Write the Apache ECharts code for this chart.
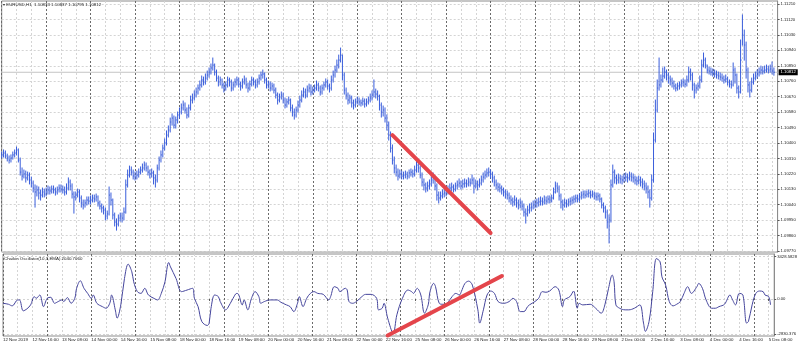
<!DOCTYPE html>
<html><head><meta charset="utf-8">
<script src="https://cdn.jsdelivr.net/npm/echarts@6/dist/echarts.min.js"></script>
<style>html,body{margin:0;padding:0;background:#fff}#c{width:800px;height:348px}</style>
</head><body><div id="c"></div>
<script>
const chartTitle = '\u25BE EURUSD,H1  1.10833 1.10837 1.10795 1.10812';
const oscTitle = 'Chaikin Oscillator(10,3,EMA) 2040.7060';
const xTickLabels = ['12 Nov 2019','12 Nov 16:00','13 Nov 08:00','14 Nov 00:00','14 Nov 16:00','15 Nov 08:00','18 Nov 00:00','18 Nov 16:00','19 Nov 08:00','20 Nov 00:00','20 Nov 16:00','21 Nov 08:00','22 Nov 00:00','22 Nov 16:00','25 Nov 08:00','26 Nov 00:00','26 Nov 16:00','27 Nov 08:00','28 Nov 00:00','28 Nov 16:00','29 Nov 08:00','2 Dec 00:00','2 Dec 16:00','3 Dec 08:00','4 Dec 00:00','4 Dec 16:00','5 Dec 08:00'];
const xTickEvery = 16;
const priceTicks = [1.0977,1.0986,1.0995,1.1004,1.1013,1.1022,1.1031,1.1040,1.1049,1.1058,1.1067,1.1076,1.1085,1.1094,1.1103,1.1112,1.1121];
const oscTicks = [-2830.376, 0, 3428.5828];
const oscTickText = ['-2830.376', '0.00', '3428.5828'];

const closes = [
1.10330,1.10341,1.10324,1.10312,1.10300,1.10312,1.10330,1.10341,1.10359,1.10300,
1.10230,1.10207,1.10219,1.10196,1.10213,1.10184,1.10166,1.10137,1.10114,1.10126,
1.10108,1.10096,1.10114,1.10102,1.10114,1.10126,1.10120,1.10131,1.10126,1.10114,
1.10126,1.10137,1.10131,1.10126,1.10114,1.10137,1.10172,1.10149,1.10102,1.10085,
1.10096,1.10114,1.10079,1.10050,1.10038,1.10050,1.10067,1.10061,1.10067,1.10079,
1.10073,1.10085,1.10050,1.10032,1.10021,1.10009,1.09974,1.09986,1.10096,1.10067,
1.09980,1.09939,1.09927,1.09962,1.09974,1.09962,1.09997,1.10155,1.10213,1.10242,
1.10230,1.10207,1.10201,1.10213,1.10230,1.10242,1.10254,1.10271,1.10254,1.10230,
1.10219,1.10225,1.10196,1.10184,1.10254,1.10300,1.10330,1.10370,1.10400,1.10446,
1.10475,1.10522,1.10545,1.10504,1.10534,1.10563,1.10580,1.10604,1.10621,1.10592,
1.10563,1.10604,1.10650,1.10662,1.10679,1.10697,1.10720,1.10738,1.10767,1.10755,
1.10778,1.10796,1.10813,1.10837,1.10854,1.10813,1.10778,1.10755,1.10767,1.10738,
1.10720,1.10738,1.10767,1.10755,1.10720,1.10738,1.10755,1.10767,1.10743,1.10732,
1.10755,1.10767,1.10738,1.10720,1.10743,1.10767,1.10755,1.10738,1.10755,1.10778,
1.10796,1.10802,1.10767,1.10738,1.10743,1.10720,1.10732,1.10708,1.10679,1.10650,
1.10668,1.10679,1.10650,1.10621,1.10639,1.10650,1.10604,1.10580,1.10563,1.10592,
1.10621,1.10650,1.10679,1.10697,1.10679,1.10708,1.10720,1.10697,1.10708,1.10720,
1.10738,1.10720,1.10697,1.10720,1.10738,1.10755,1.10732,1.10720,1.10767,1.10796,
1.10825,1.10854,1.10883,1.10912,1.10796,1.10708,1.10679,1.10650,1.10662,1.10633,
1.10621,1.10639,1.10650,1.10639,1.10633,1.10644,1.10627,1.10639,1.10650,1.10662,
1.10679,1.10697,1.10685,1.10673,1.10621,1.10580,1.10592,1.10545,1.10504,1.10446,
1.10370,1.10300,1.10254,1.10230,1.10207,1.10219,1.10207,1.10213,1.10219,1.10207,
1.10225,1.10230,1.10219,1.10242,1.10271,1.10254,1.10213,1.10172,1.10155,1.10137,
1.10149,1.10161,1.10184,1.10196,1.10149,1.10096,1.10079,1.10091,1.10102,1.10108,
1.10114,1.10126,1.10137,1.10143,1.10131,1.10149,1.10155,1.10166,1.10149,1.10161,
1.10166,1.10161,1.10172,1.10166,1.10184,1.10149,1.10161,1.10155,1.10166,1.10184,
1.10201,1.10213,1.10225,1.10230,1.10219,1.10196,1.10172,1.10155,1.10143,1.10137,
1.10126,1.10114,1.10102,1.10096,1.10079,1.10067,1.10056,1.10067,1.10050,1.10038,
1.10050,1.10032,1.09997,1.09986,1.10009,1.10021,1.10026,1.10038,1.10044,1.10050,
1.10056,1.10061,1.10056,1.10067,1.10061,1.10073,1.10067,1.10079,1.10114,1.10149,
1.10137,1.10091,1.10056,1.10038,1.10050,1.10044,1.10056,1.10061,1.10067,1.10073,
1.10079,1.10073,1.10085,1.10096,1.10102,1.10096,1.10102,1.10108,1.10096,1.10102,
1.10091,1.10085,1.10091,1.10073,1.10038,1.10021,1.09997,1.09939,1.09951,1.10155,
1.10230,1.10196,1.10184,1.10196,1.10190,1.10184,1.10196,1.10201,1.10196,1.10207,
1.10201,1.10196,1.10184,1.10178,1.10184,1.10172,1.10161,1.10149,1.10137,1.10114,
1.10079,1.10184,1.10417,1.10592,1.10720,1.10738,1.10767,1.10790,1.10813,1.10796,
1.10778,1.10767,1.10749,1.10732,1.10720,1.10732,1.10738,1.10749,1.10755,1.10743,
1.10767,1.10813,1.10796,1.10738,1.10708,1.10720,1.10732,1.10767,1.10854,1.10883,
1.10854,1.10825,1.10819,1.10813,1.10808,1.10802,1.10796,1.10790,1.10784,1.10778,
1.10767,1.10773,1.10755,1.10743,1.10738,1.10825,1.10796,1.10720,1.10697,1.10883,
1.11029,1.10971,1.10825,1.10738,1.10708,1.10755,1.10778,1.10790,1.10802,1.10813,
1.10825,1.10819,1.10825,1.10831,1.10825,1.10831,1.10819,1.10812];

const highs = [
1.10347,1.10359,1.10353,1.10335,1.10324,1.10330,1.10347,1.10359,1.10376,1.10365,
1.10312,1.10254,1.10242,1.10236,1.10230,1.10225,1.10201,1.10178,1.10155,1.10149,
1.10143,1.10126,1.10137,1.10131,1.10137,1.10149,1.10143,1.10149,1.10149,1.10137,
1.10143,1.10155,1.10155,1.10149,1.10143,1.10161,1.10196,1.10184,1.10161,1.10114,
1.10114,1.10131,1.10126,1.10091,1.10067,1.10067,1.10085,1.10085,1.10091,1.10096,
1.10096,1.10102,1.10091,1.10061,1.10044,1.10032,1.10021,1.10003,1.10143,1.10108,
1.10073,1.09991,1.09957,1.09980,1.09991,1.09991,1.10021,1.10184,1.10242,1.10265,
1.10260,1.10242,1.10230,1.10236,1.10248,1.10260,1.10277,1.10289,1.10283,1.10265,
1.10242,1.10248,1.10236,1.10213,1.10271,1.10318,1.10353,1.10388,1.10423,1.10470,
1.10499,1.10545,1.10569,1.10557,1.10551,1.10580,1.10604,1.10627,1.10644,1.10633,
1.10604,1.10621,1.10673,1.10685,1.10703,1.10720,1.10738,1.10761,1.10790,1.10784,
1.10802,1.10819,1.10837,1.10860,1.10895,1.10860,1.10825,1.10790,1.10784,1.10773,
1.10749,1.10755,1.10784,1.10778,1.10767,1.10755,1.10773,1.10784,1.10778,1.10755,
1.10773,1.10790,1.10778,1.10749,1.10761,1.10784,1.10778,1.10767,1.10773,1.10796,
1.10813,1.10825,1.10808,1.10778,1.10761,1.10755,1.10749,1.10743,1.10720,1.10691,
1.10685,1.10697,1.10691,1.10662,1.10656,1.10668,1.10656,1.10621,1.10598,1.10609,
1.10644,1.10673,1.10703,1.10720,1.10714,1.10732,1.10743,1.10738,1.10726,1.10738,
1.10761,1.10749,1.10732,1.10738,1.10755,1.10773,1.10767,1.10743,1.10790,1.10819,
1.10848,1.10883,1.10912,1.10953,1.10912,1.10808,1.10720,1.10691,1.10679,1.10673,
1.10650,1.10656,1.10668,1.10662,1.10650,1.10662,1.10656,1.10656,1.10668,1.10685,
1.10703,1.10767,1.10714,1.10703,1.10679,1.10633,1.10615,1.10604,1.10563,1.10522,
1.10464,1.10388,1.10318,1.10271,1.10248,1.10242,1.10236,1.10230,1.10236,1.10230,
1.10242,1.10248,1.10242,1.10265,1.10300,1.10283,1.10265,1.10225,1.10190,1.10166,
1.10172,1.10184,1.10213,1.10225,1.10207,1.10161,1.10114,1.10114,1.10126,1.10131,
1.10137,1.10149,1.10161,1.10166,1.10155,1.10166,1.10178,1.10190,1.10178,1.10184,
1.10190,1.10184,1.10196,1.10190,1.10213,1.10196,1.10184,1.10178,1.10190,1.10207,
1.10225,1.10236,1.10248,1.10254,1.10242,1.10230,1.10207,1.10184,1.10166,1.10161,
1.10149,1.10137,1.10126,1.10120,1.10108,1.10091,1.10079,1.10091,1.10079,1.10067,
1.10073,1.10061,1.10044,1.10015,1.10032,1.10044,1.10050,1.10061,1.10067,1.10073,
1.10079,1.10085,1.10079,1.10091,1.10085,1.10091,1.10091,1.10096,1.10137,1.10172,
1.10166,1.10149,1.10102,1.10067,1.10073,1.10067,1.10073,1.10079,1.10085,1.10091,
1.10096,1.10096,1.10102,1.10114,1.10120,1.10120,1.10120,1.10126,1.10120,1.10120,
1.10114,1.10108,1.10108,1.10102,1.10079,1.10050,1.10032,1.10009,1.09980,1.10184,
1.10271,1.10242,1.10213,1.10219,1.10213,1.10207,1.10219,1.10225,1.10219,1.10230,
1.10225,1.10219,1.10207,1.10201,1.10207,1.10201,1.10190,1.10178,1.10166,1.10149,
1.10126,1.10213,1.10458,1.10650,1.10767,1.10895,1.10796,1.10837,1.10843,1.10825,
1.10808,1.10790,1.10778,1.10761,1.10743,1.10749,1.10755,1.10767,1.10773,1.10767,
1.10790,1.10843,1.10831,1.10808,1.10749,1.10738,1.10749,1.10790,1.10883,1.10924,
1.10895,1.10854,1.10843,1.10837,1.10831,1.10825,1.10819,1.10813,1.10808,1.10802,
1.10790,1.10796,1.10784,1.10767,1.10761,1.10866,1.10837,1.10802,1.10732,1.11000,
1.11146,1.11058,1.10988,1.10837,1.10755,1.10778,1.10802,1.10813,1.10825,1.10837,
1.10848,1.10843,1.10848,1.10854,1.10848,1.10854,1.10872,1.10837];

const lows = [
1.10312,1.10318,1.10312,1.10295,1.10283,1.10289,1.10306,1.10318,1.10330,1.10289,
1.10213,1.10184,1.10196,1.10172,1.10184,1.10161,1.10143,1.10114,1.10026,1.10091,
1.10073,1.10067,1.10085,1.10085,1.10091,1.10102,1.10102,1.10108,1.10108,1.10096,
1.10102,1.10114,1.10114,1.10108,1.10096,1.10102,1.10126,1.10126,1.10079,1.09991,
1.10067,1.10085,1.10056,1.10026,1.10015,1.10026,1.10038,1.10044,1.10044,1.10056,
1.10056,1.10061,1.10032,1.10015,1.09997,1.09986,1.09951,1.09957,1.09980,1.10038,
1.09957,1.09916,1.09892,1.09916,1.09945,1.09939,1.09951,1.09991,1.10143,1.10201,
1.10213,1.10190,1.10184,1.10190,1.10201,1.10219,1.10230,1.10242,1.10236,1.10213,
1.10196,1.10201,1.10161,1.10143,1.10172,1.10242,1.10289,1.10318,1.10359,1.10388,
1.10435,1.10464,1.10504,1.10487,1.10487,1.10516,1.10545,1.10569,1.10592,1.10574,
1.10545,1.10551,1.10592,1.10633,1.10650,1.10668,1.10685,1.10708,1.10726,1.10738,
1.10743,1.10767,1.10784,1.10802,1.10825,1.10796,1.10761,1.10732,1.10738,1.10720,
1.10697,1.10708,1.10726,1.10732,1.10703,1.10708,1.10726,1.10738,1.10726,1.10708,
1.10720,1.10743,1.10720,1.10697,1.10708,1.10732,1.10738,1.10720,1.10726,1.10743,
1.10767,1.10778,1.10749,1.10720,1.10720,1.10703,1.10708,1.10691,1.10662,1.10627,
1.10639,1.10656,1.10633,1.10604,1.10609,1.10627,1.10586,1.10557,1.10539,1.10551,
1.10580,1.10609,1.10639,1.10668,1.10662,1.10668,1.10697,1.10679,1.10685,1.10697,
1.10708,1.10703,1.10679,1.10685,1.10708,1.10726,1.10714,1.10697,1.10708,1.10755,
1.10784,1.10813,1.10837,1.10872,1.10767,1.10685,1.10656,1.10627,1.10633,1.10609,
1.10598,1.10609,1.10627,1.10621,1.10615,1.10621,1.10609,1.10615,1.10627,1.10639,
1.10650,1.10668,1.10662,1.10650,1.10592,1.10551,1.10557,1.10522,1.10475,1.10417,
1.10347,1.10277,1.10225,1.10207,1.10184,1.10196,1.10190,1.10190,1.10196,1.10190,
1.10196,1.10207,1.10201,1.10207,1.10230,1.10230,1.10196,1.10149,1.10126,1.10114,
1.10120,1.10131,1.10149,1.10166,1.10126,1.10067,1.10050,1.10067,1.10079,1.10085,
1.10091,1.10102,1.10114,1.10120,1.10114,1.10120,1.10131,1.10143,1.10131,1.10137,
1.10143,1.10143,1.10149,1.10149,1.10161,1.10108,1.10137,1.10126,1.10143,1.10155,
1.10172,1.10190,1.10201,1.10207,1.10196,1.10172,1.10149,1.10131,1.10120,1.10114,
1.10102,1.10091,1.10079,1.10073,1.10056,1.10044,1.10032,1.10038,1.10026,1.10015,
1.10021,1.10009,1.09974,1.09933,1.09974,1.09991,1.10003,1.10015,1.10021,1.10026,
1.10032,1.10038,1.10038,1.10044,1.10044,1.10050,1.10050,1.10056,1.10073,1.10108,
1.10114,1.10067,1.10021,1.10009,1.10026,1.10026,1.10032,1.10038,1.10044,1.10050,
1.10056,1.10056,1.10061,1.10073,1.10079,1.10079,1.10085,1.10085,1.10079,1.10085,
1.10073,1.10067,1.10067,1.10056,1.10021,1.09997,1.09962,1.09904,1.09817,1.09939,
1.10143,1.10166,1.10161,1.10166,1.10166,1.10161,1.10172,1.10178,1.10172,1.10184,
1.10178,1.10172,1.10161,1.10155,1.10161,1.10149,1.10137,1.10126,1.10108,1.10079,
1.10026,1.10067,1.10172,1.10405,1.10580,1.10708,1.10726,1.10755,1.10778,1.10767,
1.10749,1.10738,1.10726,1.10714,1.10703,1.10708,1.10714,1.10726,1.10732,1.10726,
1.10732,1.10755,1.10767,1.10708,1.10662,1.10691,1.10708,1.10720,1.10755,1.10843,
1.10837,1.10808,1.10802,1.10796,1.10790,1.10784,1.10778,1.10773,1.10767,1.10761,
1.10749,1.10755,1.10738,1.10726,1.10720,1.10732,1.10749,1.10691,1.10662,1.10691,
1.10971,1.10883,1.10778,1.10697,1.10668,1.10697,1.10743,1.10767,1.10778,1.10790,
1.10802,1.10802,1.10808,1.10813,1.10808,1.10813,1.10802,1.10795];

const oscBars = [0,3,5,8,9,11,13,15,17,18,20,22,24,26,28,30,32,33,35,37,39,40,42,44,46,48,49,51,54,56,58,59,61,62,64,66,68,70,71,73,75,77,79,82,84,86,88,90,91,94,97,100,103,104,106,108,111,112,113,115,117,118,121,122,125,127,128,130,131,133,135,137,139,140,142,145,149,151,154,156,158,160,161,163,165,167,169,171,174,177,178,180,182,183,186,187,188,190,192,195,197,200,203,204,206,207,209,212,214,217,220,222,223,225,227,229,231,232,234,235,237,239,240,242,244,246,248,249,251,253,255,258,259,261,263,265,267,269,272,275,277,279,281,283,285,286,289,291,293,295,297,300,302,304,305,308,310,312,313,315,319,322,325,327,329,331,332,333,335,338,340,343,346,348,349,351,353,355,357,358,360,362,364,366,368,370,372,374,377,378,380,382,385,387,389,392,395,396,398,400,402,404,405,407,409,411,413,414,416,417];
const oscValues = [-350,-430,-560,-80,-80,-960,-800,-480,190,50,320,-620,50,130,-350,-210,-80,-210,110,-350,50,860,1470,860,450,50,320,-350,-620,-750,-350,320,-880,-1550,-480,1660,2810,2190,1390,590,450,860,320,50,-80,450,1390,2940,2590,1660,590,720,860,50,-620,-1820,-2140,-1950,-750,320,190,-210,-880,-750,50,450,370,-480,-80,-880,50,590,190,-350,-210,-80,-80,-270,-480,-620,-1020,-350,190,-620,50,450,590,450,370,-80,190,990,860,590,860,720,-210,-350,-210,190,370,370,50,-880,-750,-350,-1550,-2760,-1280,50,720,590,450,860,320,-1150,-480,590,1260,990,-350,-430,-430,-210,190,450,320,590,1260,1440,1120,-880,-1950,-880,320,640,450,-210,-350,-210,50,-210,-1020,-1020,-620,-480,-210,50,590,540,640,990,720,-620,-80,190,640,-750,-350,-480,-430,-750,-1150,-480,860,1930,1390,-480,-750,-880,-880,-750,-480,-1950,-2620,-1820,590,3260,3000,1790,1120,-210,-560,-430,-210,450,990,450,990,1260,860,-80,-750,-750,-620,-430,320,50,-480,450,320,-1950,-1820,-480,450,640,590,320,190,-480];

const trendPrice = [[211, 1.10446], [264, 1.09875]];
const trendOsc = [[209, -2950], [271, 1850]];

// hourly trading bars (Mon-Fri), plus two empty future slots
const barTimes = [];
{ let t = Date.UTC(2019, 10, 12, 0);
  while (barTimes.length < closes.length + 2) {
    const d = new Date(t), wd = d.getUTCDay();
    if (wd !== 0 && wd !== 6) barTimes.push(d.toISOString().slice(0, 16).replace('T', ' '));
    t += 3600e3;
  } }

const FONT = 'Liberation Sans';
const BAR = '#3a5edb';
const barData = closes.map((c, i) => [i, highs[i], lows[i], c]);
const oscData = oscBars.map((b, k) => [b, oscValues[k]]);
const lastClose = closes[closes.length - 1];
const bidLine = [[0, lastClose], [barTimes.length - 1, lastClose]];

function catAxis(gridIndex, opts) {
  return Object.assign({
    type: 'category', gridIndex, data: barTimes, boundaryGap: false,
    axisLine: {show: false}, axisTick: {show: false}, axisLabel: {show: false}
  }, opts);
}
const lightV = {show: true, interval: 7, lineStyle: {color: '#d4d4d4', type: [2, 2], width: 1}};
const darkV = {show: true, interval: 23, lineStyle: {color: '#6a6a6a', type: [2, 2], width: 1}};

const chart = echarts.init(document.getElementById('c'), null, {renderer: 'canvas'});
chart.setOption({
  animation: false,
  textStyle: {fontFamily: FONT},
  title: [
    {text: chartTitle, left: 3, top: 3, padding: 0, textStyle: {fontSize: 4.4, fontWeight: 'normal', color: '#222', fontFamily: FONT}},
    {text: oscTitle, left: 4, top: 257, padding: 0, textStyle: {fontSize: 4.4, fontWeight: 'normal', color: '#222', fontFamily: FONT}}
  ],
  grid: [
    {left: 1.7, right: 22.4, top: 1, height: 251, show: true, borderColor: '#8c8c8c', borderWidth: 1},
    {left: 1.7, right: 22.4, top: 254, height: 82, show: true, borderColor: '#8c8c8c', borderWidth: 1}
  ],
  xAxis: [
    catAxis(0, {splitLine: lightV}),
    catAxis(0, {splitLine: darkV}),
    catAxis(1, {splitLine: lightV, position: 'bottom',
      axisTick: {show: true, interval: xTickEvery - 1, length: 2, lineStyle: {color: '#555'}},
      axisLabel: {show: true, interval: xTickEvery - 1, align: 'left', margin: 2, fontSize: 4.4, color: '#222', fontFamily: FONT,
        formatter: (v, idx) => xTickLabels[idx / xTickEvery] || ''}}),
    catAxis(1, {splitLine: darkV})
  ],
  yAxis: [
    {type: 'value', gridIndex: 0, position: 'right', min: 1.097642, max: 1.112275,
      axisLine: {show: true, lineStyle: {color: '#8c8c8c'}},
      axisTick: {show: true, length: 2, customValues: priceTicks, lineStyle: {color: '#555'}},
      axisLabel: {show: true, customValues: priceTicks, margin: 3, fontSize: 4.2, color: '#222', fontFamily: FONT,
        formatter: v => v.toFixed(5)},
      splitLine: {show: true, lineStyle: {color: '#d4d4d4', type: [2, 2]}}},
    {type: 'value', gridIndex: 1, position: 'right', min: -2992, max: 3630,
      axisLine: {show: true, lineStyle: {color: '#8c8c8c'}},
      axisTick: {show: true, length: 2, customValues: oscTicks, lineStyle: {color: '#555'}},
      axisLabel: {show: true, customValues: oscTicks, margin: 3, fontSize: 4.2, color: '#222', fontFamily: FONT,
        formatter: v => { let k = 0, best = Infinity; oscTicks.forEach((t, j) => { if (Math.abs(t - v) < best) { best = Math.abs(t - v); k = j; } }); return oscTickText[k]; }},
      splitLine: {show: true, lineStyle: {color: '#d4d4d4', type: [2, 2]}}}
  ],
  series: [
    {
      type: 'line', xAxisIndex: 0, yAxisIndex: 0, data: bidLine, symbol: 'none', z: 2, silent: true,
      lineStyle: {color: '#c4c4c4', width: 1},
      endLabel: {show: true, distance: 1, formatter: () => lastClose.toFixed(5),
        backgroundColor: '#000', color: '#fff', fontSize: 4.2, padding: [1, 2], fontFamily: FONT}
    },
    {
      type: 'custom', xAxisIndex: 0, yAxisIndex: 0, clip: true, z: 3,
      data: barData,
      encode: {x: 0, y: [1, 2, 3]},
      renderItem: (params, api) => {
        const i = api.value(0);
        const pH = api.coord([i, api.value(1)]);
        const pL = api.coord([i, api.value(2)]);
        const pC = api.coord([i, api.value(3)]);
        return {type: 'group', children: [
          {type: 'line', shape: {x1: pH[0], y1: pH[1] - 0.5, x2: pL[0], y2: pL[1] + 0.5}, style: {stroke: BAR, lineWidth: 1}},
          {type: 'line', shape: {x1: pC[0], y1: pC[1], x2: pC[0] + 1, y2: pC[1]}, style: {stroke: BAR, lineWidth: 1}}
        ]};
      }
    },
    {
      type: 'line', xAxisIndex: 0, yAxisIndex: 0, data: trendPrice, symbol: 'none', z: 5,
      lineStyle: {color: '#e4454b', width: 4, cap: 'round'}
    },
    {
      type: 'line', xAxisIndex: 2, yAxisIndex: 1, data: oscData, symbol: 'none', smooth: 0.35, z: 3,
      lineStyle: {color: '#45459c', width: 1}
    },
    {
      type: 'line', xAxisIndex: 2, yAxisIndex: 1, data: trendOsc, symbol: 'none', z: 5,
      lineStyle: {color: '#e4454b', width: 4, cap: 'round'}
    }
  ]
});
</script></body></html>
